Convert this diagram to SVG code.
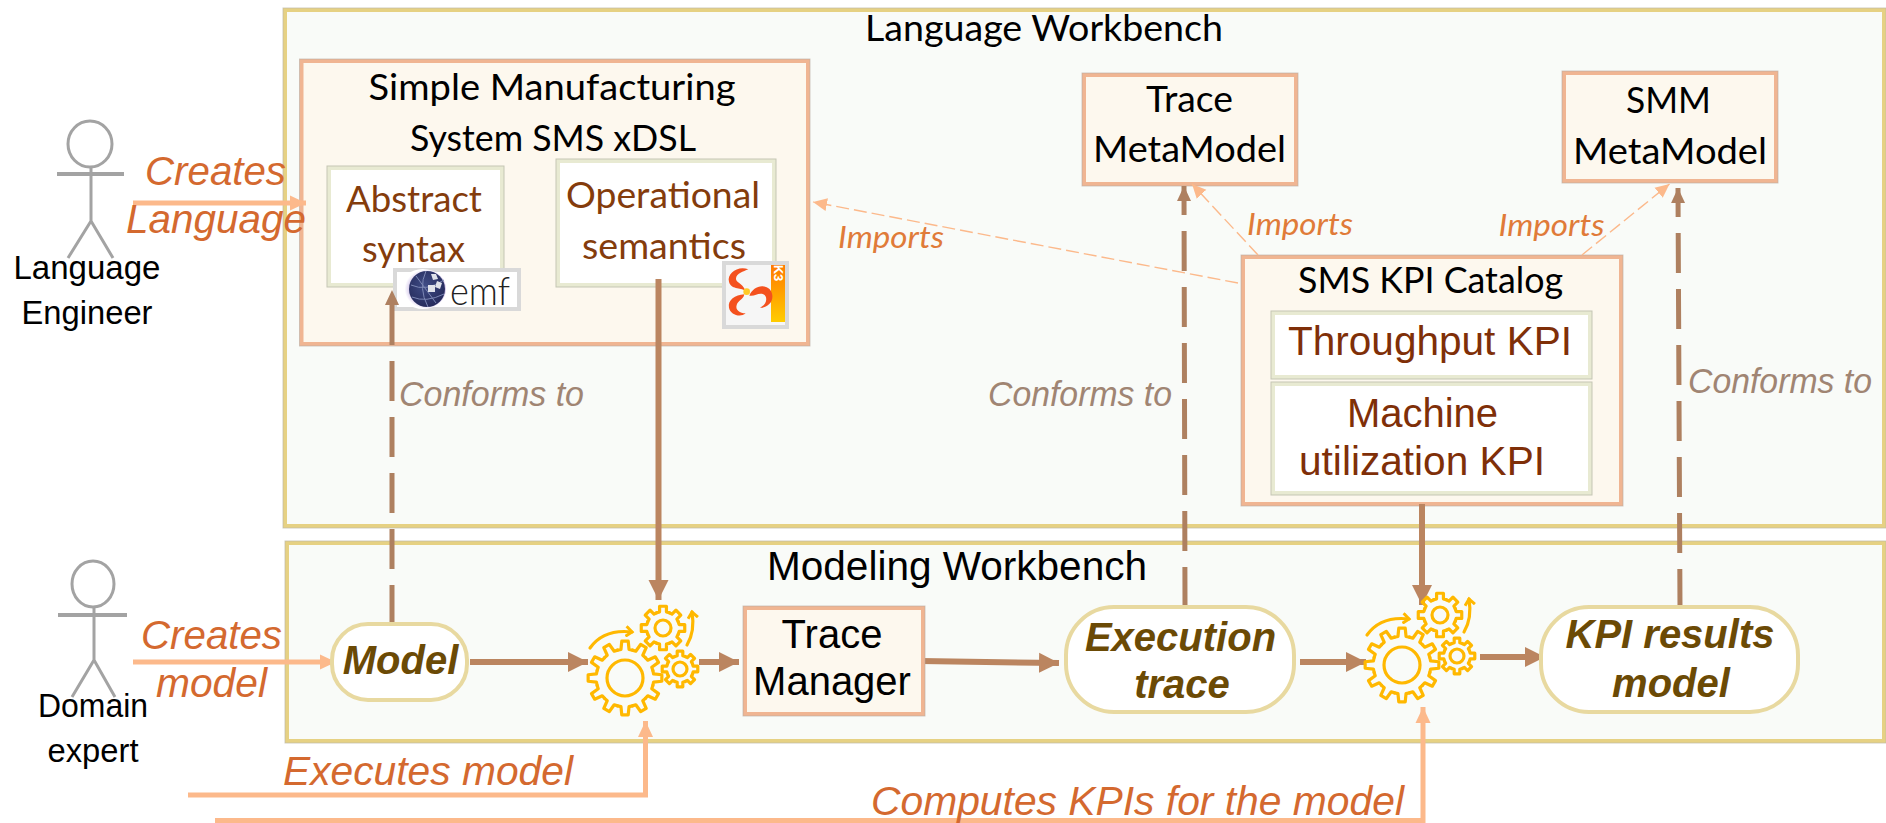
<svg xmlns="http://www.w3.org/2000/svg" xmlns:xlink="http://www.w3.org/1999/xlink" width="1886" height="823" viewBox="0 0 1886 823">
<style>
text{font-family:"Liberation Sans",Arial,sans-serif;text-anchor:middle}
.cal{font-family:Lato,"Liberation Sans",sans-serif}
.wb{fill:#f9fbf8;stroke:#e6d183;stroke-width:4}
.wbo{fill:none;stroke:#bdb9a6;stroke-width:1;opacity:.7}
.box{fill:#fdf8ee;stroke:#f0b592;stroke-width:4}
.boxo{fill:none;stroke:#b9aca0;stroke-width:1;opacity:.6}
.inner{fill:#fff;stroke:#e8ead2;stroke-width:4}
.innero{fill:none;stroke:#c5c6b4;stroke-width:1}
.pill{fill:#fff;stroke:#e8d9a0;stroke-width:4}
.blk{font-size:40px;fill:#000}
.calb{font-size:36px;fill:#000}
.calr{font-size:36px;fill:#843c0c}
.red{font-size:40px;fill:#7f2f08}
.act{font-size:33px;fill:#000}
.ol{font-size:41px;fill:#d4692f;font-style:italic}
.cf{font-size:35px;fill:#a08573;font-style:italic}
.imp{font-size:31px;fill:#e07b39;font-style:italic}
.mod{font-size:40px;fill:#6b4a05;font-style:italic;font-weight:bold}
.actor{fill:none;stroke:#a3a3a3;stroke-width:3}
.solid{fill:none;stroke:#bb8560;stroke-width:6;marker-end:url(#mb)}
.dash{fill:none;stroke:#ae8060;stroke-width:5;stroke-dasharray:40 16;marker-end:url(#md)}
.peach{fill:none;stroke:#fcb98b;stroke-width:5}
.thin{fill:none;stroke:#fcb98b;stroke-width:1.4;stroke-dasharray:13 5}
.g{fill:none;stroke:#ffb800;stroke-width:3.2;stroke-linejoin:round;stroke-linecap:round;vector-effect:non-scaling-stroke}
.tri{fill:#f4511e}
</style>
<defs>
<marker id="mb" markerUnits="userSpaceOnUse" markerWidth="22" markerHeight="22" refX="20" refY="11" orient="auto"><path d="M0 1L20 11L0 21Z" fill="#bb8560"/></marker>
<marker id="md" markerUnits="userSpaceOnUse" markerWidth="16" markerHeight="16" refX="15" refY="8" orient="auto"><path d="M0 1L15 8L0 15Z" fill="#ae8060"/></marker>
<marker id="mp" markerUnits="userSpaceOnUse" markerWidth="17" markerHeight="16" refX="16" refY="8" orient="auto"><path d="M0 0.5L16 8L0 15.5Z" fill="#fcb98b"/></marker>
<marker id="mt" markerUnits="userSpaceOnUse" markerWidth="15" markerHeight="14" refX="14" refY="7" orient="auto"><path d="M0 0.5L14 7L0 13.5Z" fill="#fcb98b"/></marker>
<marker id="my" markerUnits="userSpaceOnUse" markerWidth="12" markerHeight="12" refX="7" refY="6" orient="auto"><path d="M1 1L7 6L1 11" fill="none" stroke="#ffb800" stroke-width="3"/></marker>
<path id="t12" class="g" d="M-20.2 -75.3L-10.9 -77.2L-8.7 -99.6L8.7 -99.6L10.9 -77.2L20.2 -75.3"/>
<path id="t8" class="g" d="M-28.7 -69.3L-15.6 -73.4L-15.6 -98.8L15.6 -98.8L15.6 -73.4L28.7 -69.3"/>
<g id="g12"><use xlink:href="#t12"/><use xlink:href="#t12" transform="rotate(30)"/><use xlink:href="#t12" transform="rotate(60)"/><use xlink:href="#t12" transform="rotate(90)"/><use xlink:href="#t12" transform="rotate(120)"/><use xlink:href="#t12" transform="rotate(150)"/><use xlink:href="#t12" transform="rotate(180)"/><use xlink:href="#t12" transform="rotate(210)"/><use xlink:href="#t12" transform="rotate(240)"/><use xlink:href="#t12" transform="rotate(270)"/><use xlink:href="#t12" transform="rotate(300)"/><use xlink:href="#t12" transform="rotate(330)"/></g>
<g id="g8"><use xlink:href="#t8"/><use xlink:href="#t8" transform="rotate(45)"/><use xlink:href="#t8" transform="rotate(90)"/><use xlink:href="#t8" transform="rotate(135)"/><use xlink:href="#t8" transform="rotate(180)"/><use xlink:href="#t8" transform="rotate(225)"/><use xlink:href="#t8" transform="rotate(270)"/><use xlink:href="#t8" transform="rotate(315)"/></g>
<g id="gears">
<use xlink:href="#g12" transform="translate(625 678) scale(.37)"/>
<circle cx="625" cy="678" r="18" class="g"/>
<use xlink:href="#g8" transform="translate(663 628) scale(.22)"/>
<circle cx="663" cy="628" r="8" class="g"/>
<use xlink:href="#g8" transform="translate(680 669) scale(.18)"/>
<circle cx="680" cy="669" r="7" class="g"/>
<path class="g" d="M590 648C600 634 615 630 632 632" marker-end="url(#my)"/>
<path class="g" d="M687 645C693 635 694 624 692 612" marker-end="url(#my)"/>
</g>
<linearGradient id="k3g" x1="0" y1="0" x2="0" y2="1"><stop offset="0" stop-color="#ff7a00"/><stop offset="1" stop-color="#ffcc00"/></linearGradient>
<radialGradient id="glb" cx=".45" cy=".4" r=".6"><stop offset="0" stop-color="#3f4c86"/><stop offset="1" stop-color="#262c5c"/></radialGradient>
<radialGradient id="halo" cx=".6" cy=".5" r=".5"><stop offset=".7" stop-color="#c9b8e6"/><stop offset="1" stop-color="#fff"/></radialGradient>
</defs>

<g id="language-workbench">
<rect class="wb" x="285" y="10" width="1599" height="516"/>
<rect class="wbo" x="283" y="8" width="1603" height="520"/>
<text class="cal calb" x="1044" y="41" textLength="358" lengthAdjust="spacingAndGlyphs">Language Workbench</text>
</g>
<g id="modeling-workbench">
<rect class="wb" x="287" y="543" width="1597" height="198"/>
<rect class="wbo" x="285" y="541" width="1601" height="202"/>
<text class="blk" x="957" y="580" textLength="380" lengthAdjust="spacingAndGlyphs">Modeling Workbench</text>
</g>

<g id="sms-xdsl">
<rect class="box" x="301.500" y="61" width="506.500" height="283"/>
<rect class="boxo" x="299.500" y="59" width="510.500" height="287"/>
<text class="cal calb" x="552" y="100" textLength="367" lengthAdjust="spacingAndGlyphs">Simple Manufacturing</text>
<text class="cal calb" x="553" y="151" textLength="286" lengthAdjust="spacingAndGlyphs">System SMS xDSL</text>
</g>
<g id="abstract-syntax">
<rect class="inner" x="329" y="168" width="173" height="117"/>
<rect class="innero" x="327" y="166" width="177" height="121"/>
<text class="cal calr" x="414" y="212" textLength="136" lengthAdjust="spacingAndGlyphs">Abstract</text>
<text class="cal calr" x="413.500" y="262" textLength="103" lengthAdjust="spacingAndGlyphs">syntax</text>
</g>
<g id="operational-semantics">
<rect class="inner" x="558" y="161" width="216" height="124"/>
<rect class="innero" x="556" y="159" width="220" height="128"/>
<text class="cal calr" x="663" y="208" textLength="194" lengthAdjust="spacingAndGlyphs">Operational</text>
<text class="cal calr" x="664" y="259" textLength="164" lengthAdjust="spacingAndGlyphs">semantics</text>
</g>
<g id="emf-logo">
<rect x="395" y="270" width="124" height="39" fill="#fff" stroke="#d9d9d9" stroke-width="4"/>
<ellipse cx="423" cy="289" rx="23" ry="20" fill="url(#halo)"/>
<circle cx="427" cy="289" r="18" fill="url(#glb)"/>
<path d="M416 276L436 303M411 285Q426 292 444 280M412 297Q426 303 444 294M426 271Q418 288 428 307" fill="none" stroke="#7d88b5" stroke-width="1"/>
<path d="M431 274l5 0l2 5l-5 1ZM437 281l5 2l-2 6l-5 -2ZM428 285l7 0l0 7l-7 0Z" fill="#dfe2ea"/>
<text x="480" y="305" class="cal" textLength="60" lengthAdjust="spacingAndGlyphs" style="font-size:40px;font-weight:300;fill:#222">emf</text>
</g>
<g id="k3-logo">
<rect x="724" y="263" width="63" height="64" fill="#f6f6f6" stroke="#d9d9d9" stroke-width="4"/>
<rect x="771" y="265" width="14" height="57" fill="url(#k3g)"/>
<text transform="translate(774 273) rotate(90)" style="font-size:13px;font-weight:bold;fill:#fff">K3</text>
<g transform="translate(715 255) scale(.3333)">
<path class="tri" d="M100 43C70 30 35 55 42 80C48 105 75 95 92 108C80 80 62 85 63 70C65 55 85 50 100 43Z"/>
<path class="tri" d="M88 118C60 120 38 135 42 158C46 178 75 190 92 175C75 175 60 165 65 150C70 135 85 135 88 118Z"/>
<path class="tri" d="M103 122C112 100 135 88 155 97C175 105 178 135 162 148C155 155 145 160 135 158C155 150 160 125 145 118C130 112 120 125 103 122Z"/>
<circle cx="95" cy="110" r="10" fill="#ffc926"/>
</g>
</g>

<g id="trace-metamodel">
<rect class="box" x="1084" y="75" width="212" height="109"/>
<rect class="boxo" x="1082" y="73" width="216" height="113"/>
<text class="cal calb" x="1189.500" y="112" textLength="87" lengthAdjust="spacingAndGlyphs">Trace</text>
<text class="cal calb" x="1189.500" y="162" textLength="193" lengthAdjust="spacingAndGlyphs">MetaModel</text>
</g>
<g id="smm-metamodel">
<rect class="box" x="1564" y="73" width="212" height="108"/>
<rect class="boxo" x="1562" y="71" width="216" height="112"/>
<text class="cal calb" x="1668.500" y="113" textLength="85" lengthAdjust="spacingAndGlyphs">SMM</text>
<text class="cal calb" x="1670" y="164" textLength="194" lengthAdjust="spacingAndGlyphs">MetaModel</text>
</g>
<g id="kpi-catalog">
<rect class="box" x="1243" y="257" width="378" height="247"/>
<rect class="boxo" x="1241" y="255" width="382" height="251"/>
<text class="cal calb" x="1430.500" y="293" textLength="265" lengthAdjust="spacingAndGlyphs">SMS KPI Catalog</text>
</g>
<g id="throughput-kpi">
<rect class="inner" x="1273" y="313" width="317" height="64"/>
<rect class="innero" x="1271" y="311" width="321" height="68"/>
<text class="red" x="1430" y="355" textLength="284" lengthAdjust="spacingAndGlyphs">Throughput KPI</text>
</g>
<g id="machine-kpi">
<rect class="inner" x="1273" y="384" width="317" height="109"/>
<rect class="innero" x="1271" y="382" width="321" height="113"/>
<text class="red" x="1422.500" y="427">Machine</text>
<text class="red" x="1422" y="475" textLength="246" lengthAdjust="spacingAndGlyphs">utilization KPI</text>
</g>

<g id="language-engineer">
<ellipse class="actor" cx="90" cy="144" rx="22" ry="23"/>
<path class="actor" d="M91 167V221M91 221L68 258M91 221L113 258"/>
<path class="actor" d="M57 174H124" style="stroke-width:4"/>
<text class="act" x="87" y="279" textLength="147" lengthAdjust="spacingAndGlyphs">Language</text>
<text class="act" x="87" y="324" textLength="131" lengthAdjust="spacingAndGlyphs">Engineer</text>
</g>
<g id="domain-expert">
<ellipse class="actor" cx="93" cy="584" rx="21" ry="23"/>
<path class="actor" d="M94 607V660M94 660L72 697M94 660L115 697"/>
<path class="actor" d="M58 615H127" style="stroke-width:4"/>
<text class="act" x="93" y="717" textLength="110" lengthAdjust="spacingAndGlyphs">Domain</text>
<text class="act" x="93" y="762" textLength="91" lengthAdjust="spacingAndGlyphs">expert</text>
</g>

<g id="connectors">
<path class="dash" d="M392 625V290"/>
<path class="dash" d="M1185 607L1184 186"/>
<path class="dash" d="M1680 609L1678 188"/>
<path class="solid" d="M658.500 279V600"/>
<path class="solid" d="M1422 504V605"/>
<path class="solid" d="M470 662H588"/>
<path class="solid" d="M699 662H739"/>
<path class="solid" d="M921 661L1059 663"/>
<path class="solid" d="M1300 662H1366"/>
<path class="solid" d="M1480 657H1545"/>
<path class="peach" marker-end="url(#mp)" d="M133 203H306"/>
<path class="peach" marker-end="url(#mp)" d="M133 662H336"/>
<path class="peach" marker-end="url(#mp)" d="M188 795H645.500V721"/>
<path class="peach" marker-end="url(#mp)" d="M215 820.500H1423V707"/>
<path class="thin" marker-end="url(#mt)" d="M1238 283L813 202"/>
<path class="thin" marker-end="url(#mt)" d="M1258 255L1192 184"/>
<path class="thin" marker-end="url(#mt)" d="M1582 255L1669.500 184"/>
</g>

<g id="model">
<rect class="pill" x="332" y="624" width="135" height="76" rx="36"/>
<text class="mod" x="400.500" y="674">Model</text>
</g>
<g id="engine-1"><use xlink:href="#gears"/></g>
<g id="trace-manager">
<rect class="box" x="745" y="608" width="178" height="106"/>
<rect class="boxo" x="743" y="606" width="182" height="110"/>
<text class="blk" x="832" y="648">Trace</text>
<text class="blk" x="832" y="695">Manager</text>
</g>
<g id="execution-trace">
<rect class="pill" x="1066" y="607" width="228" height="105" rx="48"/>
<text class="mod" x="1180.500" y="651">Execution</text>
<text class="mod" x="1182" y="698">trace</text>
</g>
<g id="engine-2"><use xlink:href="#gears" transform="translate(777 -13)"/></g>
<g id="kpi-results-model">
<rect class="pill" x="1541" y="607" width="257" height="105" rx="48"/>
<text class="mod" x="1670" y="648">KPI results</text>
<text class="mod" x="1671" y="697">model</text>
</g>

<g id="labels">
<text class="ol" x="215.500" y="185" textLength="141" lengthAdjust="spacingAndGlyphs">Creates</text>
<text class="ol" x="216" y="233" textLength="180" lengthAdjust="spacingAndGlyphs">Language</text>
<text class="ol" x="211.500" y="649" textLength="141" lengthAdjust="spacingAndGlyphs">Creates</text>
<text class="ol" x="211.500" y="697" textLength="111" lengthAdjust="spacingAndGlyphs">model</text>
<text class="ol" x="428" y="785" textLength="290" lengthAdjust="spacingAndGlyphs">Executes model</text>
<text class="ol" x="1137.500" y="815" textLength="533" lengthAdjust="spacingAndGlyphs">Computes KPIs for the model</text>
<text class="cf" x="491.500" y="406" textLength="185" lengthAdjust="spacingAndGlyphs">Conforms to</text>
<text class="cf" x="1080" y="406" textLength="184" lengthAdjust="spacingAndGlyphs">Conforms to</text>
<text class="cf" x="1780" y="393" textLength="184" lengthAdjust="spacingAndGlyphs">Conforms to</text>
<text class="cal imp" x="891" y="248" textLength="106" lengthAdjust="spacingAndGlyphs">Imports</text>
<text class="cal imp" x="1300" y="235" textLength="106" lengthAdjust="spacingAndGlyphs">Imports</text>
<text class="cal imp" x="1551.500" y="236" textLength="106" lengthAdjust="spacingAndGlyphs">Imports</text>
</g>
</svg>
